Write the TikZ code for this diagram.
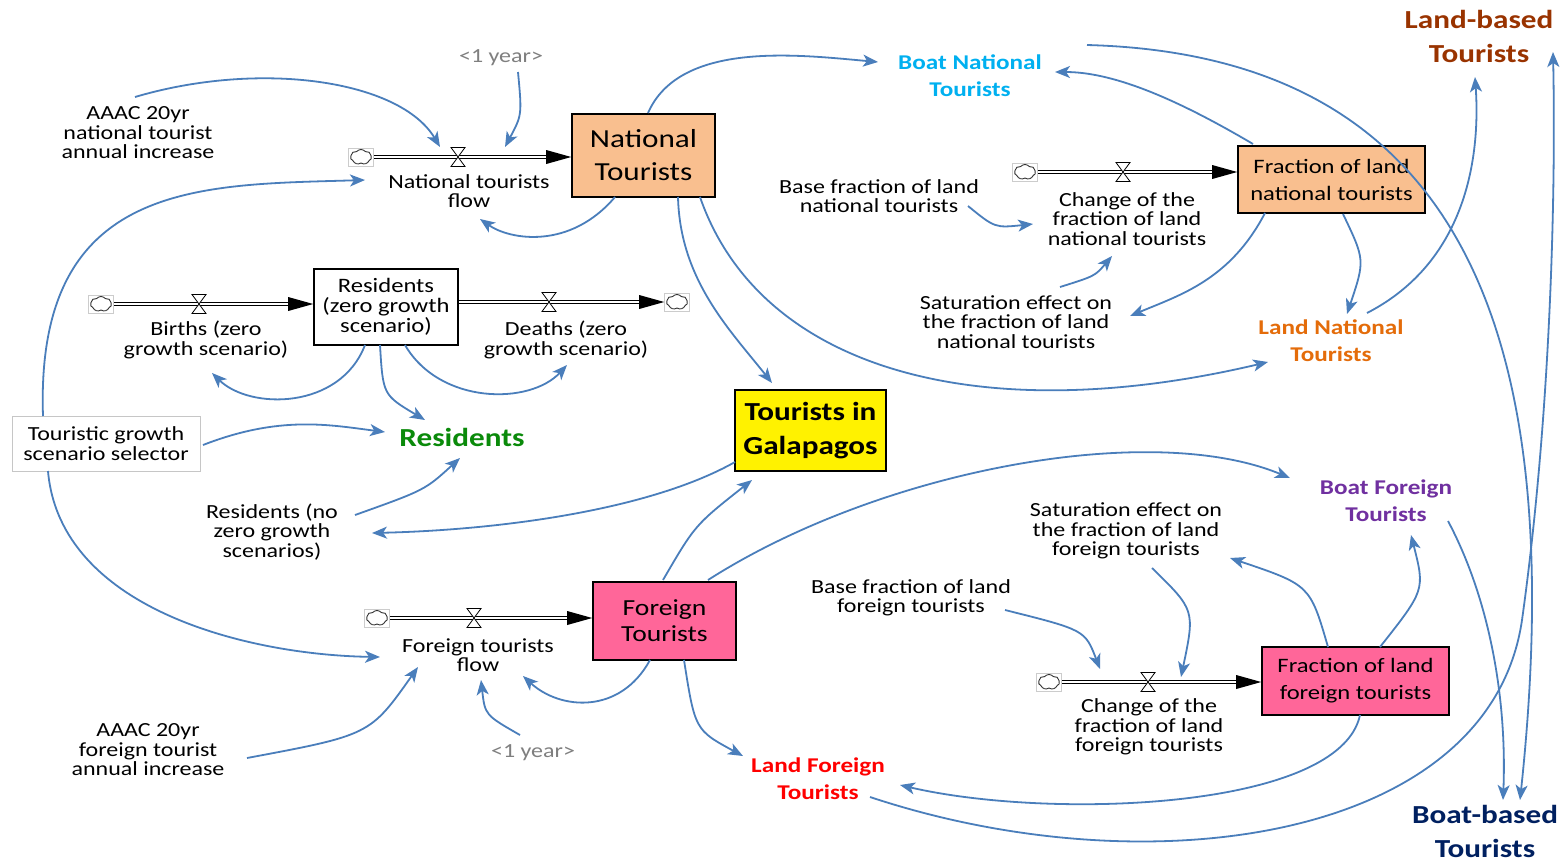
\documentclass[tikz,border=0pt]{standalone}
\usepackage{fontspec}
\setmainfont{Carlito}[FakeStretch=1.2]
\usetikzlibrary{arrows.meta,calc,shapes.symbols}
\definecolor{cblue}{HTML}{4A7EBB}
\definecolor{peach}{HTML}{F9BF8F}
\definecolor{pinkc}{HTML}{FF6699}
\definecolor{resgreen}{HTML}{0A8A0A}
\definecolor{bncol}{HTML}{00B0F0}
\definecolor{lncol}{HTML}{E46C0A}
\definecolor{bfcol}{HTML}{7030A0}
\definecolor{lfcol}{HTML}{FF0000}
\definecolor{lbcol}{HTML}{993300}
\definecolor{bbcol}{HTML}{002060}
\definecolor{graytxt}{HTML}{7F7F7F}
\tikzset{
  lbl/.style={font=\fontsize{20}{19.5}\selectfont, align=center, inner sep=0pt},
  stock/.style={draw=black, line width=1.6pt, align=center, inner sep=0pt},
  biglbl/.style={font=\bfseries\fontsize{21}{27}\selectfont, align=center, inner sep=0pt},
  hugelbl/.style={font=\bfseries\fontsize{26}{34}\selectfont, align=center, inner sep=0pt},
  conn/.style={draw=cblue, line width=1.8pt, -{Stealth[length=15pt,width=12pt,inset=4pt]}},
  pipe/.style={draw=black, double=white, double distance=2.2pt, line width=0.8pt},
  cloudbox/.style={draw=gray!40, line width=0.6pt, minimum width=25pt, minimum height=18pt, inner sep=0pt},
  cloudshape/.style={cloud, cloud puffs=7, cloud puff arc=100, aspect=1.4, draw=black!80, line width=0.9pt, minimum width=21pt, minimum height=15pt, inner sep=0pt},
  valve/.pic={\draw[fill=white, line width=0.8pt] (-7,-9.5) -- (7,-9.5) -- (-7,9.5) -- (7,9.5) -- cycle;}
}
\begin{document}
\begin{tikzpicture}[x=1pt,y=-1pt]
\useasboundingbox (0,0) rectangle (1563,863);
\fill[white] (0,0) rectangle (1563,863);

% stocks
\node[stock, fill=peach, minimum width=143pt, minimum height=83pt, font=\fontsize{26}{33}\selectfont] (nt) at (643.5,155.5) {National\\Tourists};
\node[stock, fill=peach, minimum width=187pt, minimum height=67pt, font=\fontsize{20.5}{27}\selectfont] (flnt) at (1331.5,179.5) {Fraction of land\\national tourists};
\node[stock, fill=white, minimum width=144pt, minimum height=76pt, font=\fontsize{20.5}{20}\selectfont] (rz) at (386,307) {Residents\\(zero growth\\scenario)};
\node[stock, fill=yellow, minimum width=151pt, minimum height=81pt, font=\bfseries\fontsize{26}{34}\selectfont] (tig) at (810.5,430.5) {Tourists in\\Galapagos};
\node[stock, fill=pinkc, minimum width=143pt, minimum height=78pt, font=\fontsize{23}{26}\selectfont] (ft) at (664.5,621) {Foreign\\Tourists};
\node[stock, fill=pinkc, minimum width=187pt, minimum height=68pt, font=\fontsize{20.5}{27}\selectfont] (flft) at (1355.5,681) {Fraction of land\\foreign tourists};
\node[lbl, draw=gray!45, line width=1pt, fill=white, minimum width=188pt, minimum height=55pt] (tgs) at (106,443.5) {Touristic growth\\scenario selector};

% clouds
\node[cloudbox] (cl1) at (361,157) {};
\node[cloudbox] (cl2) at (101,304) {};
\node[cloudbox] (cl3) at (677,302) {};
\node[cloudbox] (cl4) at (1025,172) {};
\node[cloudbox] (cl5) at (377,618) {};
\node[cloudbox] (cl6) at (1049,682) {};
\foreach \c in {cl1,cl2,cl3,cl4,cl5,cl6} {\node[cloudshape] at (\c) {};}

% valves
\coordinate (v1) at (458,157);
\coordinate (v2) at (199,304);
\coordinate (v3) at (549,302);
\coordinate (v4) at (1123,172);
\coordinate (v5) at (474,618);
\coordinate (v6) at (1148,682);

% pipes
\draw[pipe] (cl1.east) -- ($(cl1 -| nt.west)+(-24,0)$);
\fill (cl1 -| nt.west) -- ++(-25,-7) -- ++(0,14) -- cycle;
\draw[pipe] (cl2.east) -- ($(cl2 -| rz.west)+(-24,0)$);
\fill (cl2 -| rz.west) -- ++(-25,-7) -- ++(0,14) -- cycle;
\draw[pipe] (cl3 -| rz.east) -- ($(cl3.west)+(-24,0)$);
\fill (cl3.west) -- ++(-25,-7) -- ++(0,14) -- cycle;
\draw[pipe] (cl4.east) -- ($(cl4 -| flnt.west)+(-24,0)$);
\fill (cl4 -| flnt.west) -- ++(-25,-7) -- ++(0,14) -- cycle;
\draw[pipe] (cl5.east) -- ($(cl5 -| ft.west)+(-24,0)$);
\fill (cl5 -| ft.west) -- ++(-25,-7) -- ++(0,14) -- cycle;
\draw[pipe] (cl6.east) -- ($(cl6 -| flft.west)+(-24,0)$);
\fill (cl6 -| flft.west) -- ++(-25,-7) -- ++(0,14) -- cycle;

\pic at (v1) {valve};
\pic at (v2) {valve};
\pic at (v3) {valve};
\pic at (v4) {valve};
\pic at (v5) {valve};
\pic at (v6) {valve};

% flow labels and auxiliaries
\node[lbl] (ntf) at (469,191) {National tourists\\flow};
\node[lbl] (bz) at (206,340) {Births (zero\\growth scenario)};
\node[lbl] (dz) at (566,340) {Deaths (zero\\growth scenario)};
\node[lbl] (cfln) at (1127,219) {Change of the\\fraction of land\\national tourists};
\node[lbl] (fff) at (478,655) {Foreign tourists\\flow};
\node[lbl] (cflf) at (1149,727) {Change of the\\fraction of land\\foreign tourists};
\node[lbl, text=graytxt] (y1) at (501,58) {<1 year>};
\node[lbl, text=graytxt] (y2) at (533,753) {<1 year>};
\node[lbl] (aaacn) at (138,133) {AAAC 20yr\\national tourist\\annual increase};
\node[lbl] (aaacf) at (148,750) {AAAC 20yr\\foreign tourist\\annual increase};
\node[lbl] (bfln) at (879,196) {Base fraction of land\\national tourists};
\node[lbl] (satn) at (1016,322) {Saturation effect on\\the fraction of land\\national tourists};
\node[lbl] (satf) at (1126,531) {Saturation effect on\\the fraction of land\\foreign tourists};
\node[lbl] (bflf) at (911,598) {Base fraction of land\\foreign tourists};
\node[lbl] (rnz) at (272,532) {Residents (no\\zero growth\\scenarios)};
\node[hugelbl, text=resgreen] (res) at (462,437) {Residents};
\node[biglbl, text=bncol] (bnt) at (970,76) {Boat National\\Tourists};
\node[biglbl, text=lncol] (lnt) at (1331,341) {Land National\\Tourists};
\node[biglbl, text=bfcol] (bft) at (1386,501) {Boat Foreign\\Tourists};
\node[biglbl, text=lfcol] (lft) at (818,779) {Land Foreign\\Tourists};
\node[hugelbl, text=lbcol] (lbt) at (1479,36) {Land-based\\Tourists};
\node[hugelbl, text=bbcol] (bbt) at (1485,831) {Boat-based\\Tourists};

% connectors
\draw[conn] ($(aaacn)+(-3,-36)$) .. controls (260,60) and (400,80) .. ($(v1)+(-18,-10)$);
\draw[conn] ($(y1)+(17,14)$) .. controls (522,115) .. ($(v1)+(47,-10)$);
\draw[conn] ($(tgs)+(-63,-27.5)$) .. controls (35,180) and (200,185) .. ($(ntf)+(-104,-11)$);
\draw[conn] ($(nt)+(-28.5,41.5)$) .. controls (570,250) and (510,240) .. ($(ntf)+(11,28)$);
\draw[conn] ($(nt)+(4.5,-42.5)$) .. controls (680,40) and (800,55) .. ($(bnt)+(-92,-14)$);
\draw[conn] ($(nt)+(34.5,41.5)$) .. controls (680,280) and (730,330) .. ($(tig)+(-38.5,-47.5)$);
\draw[conn] ($(nt)+(56.5,41.5)$) .. controls (760,370) and (980,430) .. ($(lnt)+(-63,21)$);
\draw[conn] ($(bfln)+(89,10)$) .. controls (995,228) .. ($(cfln)+(-94,5)$);
\draw[conn] ($(satn)+(44,-35)$) .. controls (1095,276) .. ($(cfln)+(-15,37)$);
\draw[conn] ($(flnt)+(-66.5,33.5)$) .. controls (1230,280) and (1180,295) .. ($(satn)+(114,-6)$);
\draw[conn] ($(flnt)+(-78.5,-35.5)$) .. controls (1170,95) and (1110,72) .. ($(bnt)+(85,-4)$);
\draw[conn] ($(flnt)+(11.5,34.5)$) .. controls (1365,260) .. ($(lnt)+(16,-27)$);
\draw[conn] ($(lnt)+(36,-28)$) .. controls (1470,260) and (1480,150) .. ($(lbt)+(-4,41)$);
\draw[conn] ($(bnt)+(117,-31)$) .. controls (1460,55) and (1570,330) .. ($(bbt)+(35,-31)$);
\draw[conn] ($(lft)+(52,18)$) .. controls (1150,890) and (1490,840) .. (1522,620) .. controls (1550,420) and (1556,200) .. ($(lbt)+(74,16)$);
\draw[conn] ($(bft)+(62,20)$) .. controls (1490,600) and (1507,700) .. ($(bbt)+(18,-31)$);
\draw[conn] ($(ft)+(43.5,-41)$) .. controls (880,470) and (1150,420) .. ($(bft)+(-96,-23)$);
\draw[conn] ($(ft)+(-1.5,-41)$) .. controls (695,525) .. ($(tig)+(-58.5,49.5)$);
\draw[conn] ($(tig)+(-75.5,31.5)$) .. controls (650,510) and (500,530) .. ($(rnz)+(100,1)$);
\draw[conn] ($(rnz)+(83,-17)$) .. controls (425,490) .. ($(res)+(-2,21)$);
\draw[conn] ($(tgs)+(97,1.5)$) .. controls (280,415) and (330,425) .. ($(res)+(-77,-5)$);
\draw[conn] ($(rz)+(-6,38)$) .. controls (383,395) .. ($(res)+(-37,-17)$);
\draw[conn] ($(rz)+(-21,38)$) .. controls (340,410) and (250,410) .. ($(bz)+(6,33)$);
\draw[conn] ($(rz)+(19,38)$) .. controls (440,405) and (530,405) .. ($(dz)+(1,25)$);
\draw[conn] ($(tgs)+(-58,27.5)$) .. controls (60,610) and (250,655) .. ($(fff)+(-98,2)$);
\draw[conn] ($(aaacf)+(99,8)$) .. controls (370,735) .. ($(fff)+(-60,12)$);
\draw[conn] ($(y2)+(-13,-18)$) .. controls (485,715) .. ($(fff)+(3,25)$);
\draw[conn] ($(ft)+(-14.5,39)$) .. controls (620,715) and (560,710) .. ($(fff)+(45,21)$);
\draw[conn] ($(ft)+(19.5,39)$) .. controls (695,730) .. ($(lft)+(-75,-23)$);
\draw[conn] ($(bflf)+(94,12)$) .. controls (1085,630) .. ($(v6)+(-48,-13)$);
\draw[conn] ($(satf)+(26,37)$) .. controls (1195,610) .. ($(v6)+(33,-5)$);
\draw[conn] ($(flft)+(-27.5,-34)$) .. controls (1310,585) .. ($(satf)+(104,27)$);
\draw[conn] ($(flft)+(24.5,-34)$) .. controls (1425,590) .. ($(bft)+(25,34)$);
\draw[conn] ($(flft)+(4.5,34)$) .. controls (1340,810) and (1050,820) .. ($(lft)+(82,6)$);
\end{tikzpicture}
\end{document}
